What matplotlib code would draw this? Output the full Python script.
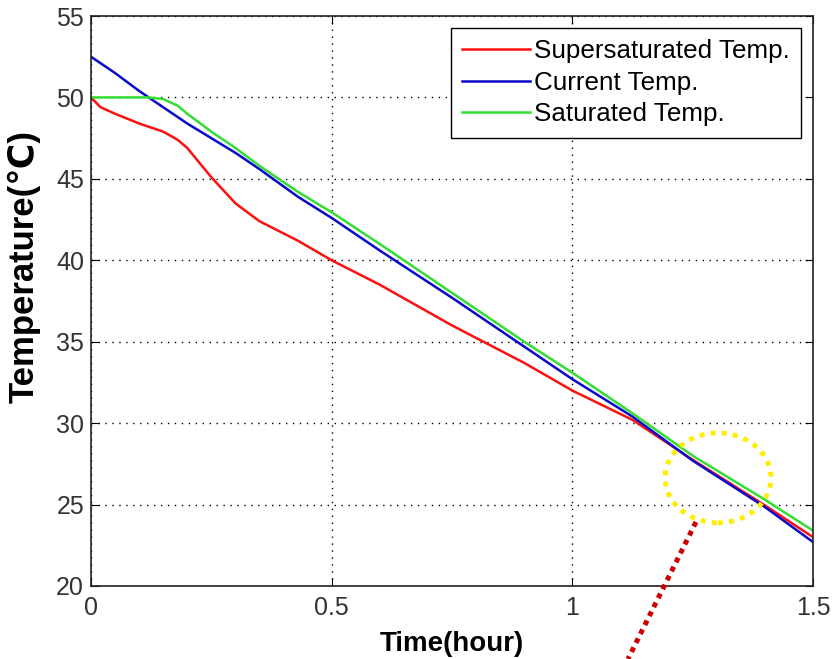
import matplotlib
matplotlib.use("Agg")
import matplotlib.pyplot as plt
from matplotlib.patches import Ellipse
from matplotlib.lines import Line2D

plt.rcParams['font.family'] = ['Liberation Sans', 'DejaVu Sans']

# time (hour)
t = [0, 0.02, 0.05, 0.1, 0.12, 0.15, 0.18, 0.2, 0.25, 0.3, 0.35, 0.43, 0.5,
     0.6, 0.75, 0.9, 1.0, 1.125, 1.25, 1.4, 1.5]
supersat = [50.0, 49.4, 49.0, 48.4, 48.2, 47.9, 47.4, 46.9, 45.1, 43.5, 42.4,
            41.2, 40.0, 38.5, 36.0, 33.7, 32.0, 30.2, 27.75, 24.95, 23.0]
current = [52.5, 52.1, 51.5, 50.4, 50.0, 49.4, 48.8, 48.4, 47.5, 46.6, 45.6,
           43.9, 42.6, 40.6, 37.7, 34.7, 32.7, 30.4, 27.7, 24.85, 22.7]
saturated = [50.0, 50.0, 50.0, 50.0, 50.0, 49.9, 49.5, 49.0, 47.9, 46.9, 45.8,
             44.2, 42.95, 41.0, 38.0, 35.0, 33.1, 30.6, 28.0, 25.3, 23.4]
labels = ['Supersaturated Temp.', 'Current Temp.', 'Saturated Temp.']

fig = plt.figure(figsize=(8.33, 6.59), dpi=100)
ax = fig.add_axes([0.1092, 0.1108, 0.8668, 0.8649])

ax.plot(t, supersat, color='#ff1010', lw=1.8, label=labels[0])
ax.plot(t, current, color='#0a0acc', lw=1.8, label=labels[1])
ax.plot(t, saturated, color='#33dd33', lw=1.8, label=labels[2])

ax.set_xlim(0, 1.5)
ax.set_ylim(20, 55)
ax.set_xticks([0, 0.5, 1, 1.5])
ax.set_xticklabels(['0', '0.5', '1', '1.5'])
ax.set_yticks(range(20, 56, 5))
ax.tick_params(direction='in', labelsize=18, labelcolor='#333333', length=6,
               top=True, right=True)
ax.tick_params(axis='x', pad=7)
ax.tick_params(axis='y', pad=5)
ax.grid(True, linestyle=(0, (1, 4)), color='black', lw=1)
for s in ax.spines.values():
    s.set_linewidth(1.2)
    s.set_color('#222222')

ax.set_xlabel('Time(hour)', fontsize=20, fontweight='bold', labelpad=8)
ax.set_ylabel('Temperature(℃)', fontsize=25, fontweight='bold')
ax.yaxis.set_label_coords(-0.07, 0.56)

leg = ax.legend(loc='upper right', fontsize=18.7, frameon=True, fancybox=False,
                edgecolor='black', handlelength=2.6, handletextpad=0.15,
                borderaxespad=0.45, borderpad=0.45, labelspacing=0.28)
leg.get_frame().set_linewidth(1.0)
leg.get_frame().set_facecolor('white')
leg.get_frame().set_alpha(1)

# yellow highlight circle and red pointer
ell = Ellipse((1.3026, 26.64), 0.22, 5.52, fill=False, edgecolor='#ffee00',
              lw=3.5, linestyle=(0, (1, 1.3)), clip_on=False, zorder=5)
ax.add_patch(ell)
fig.add_artist(Line2D([0.8355, 0.7539], [0.2079, 0.0], transform=fig.transFigure,
                      color='#cc0000', lw=3.6, linestyle=(0, (1, 1))))

fig.savefig('out.png', dpi=100, facecolor='white')
